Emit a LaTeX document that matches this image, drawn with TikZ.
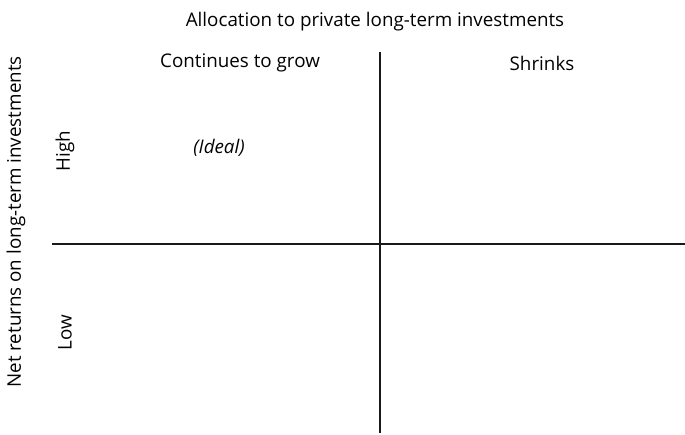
\documentclass[tikz,border=0pt]{standalone}
\usepackage{fontspec}
\setmainfont{Open Sans}
\usetikzlibrary{calc}
\tikzset{
  axis/.style={line width=1.3pt,black!90},
  lbl/.style={font=\fontsize{14.1}{16}\selectfont,inner sep=0pt},
  vlbl/.style={lbl,rotate=90}
}

\begin{document}
\begin{tikzpicture}[x=0.75pt,y=-0.75pt]
%
\useasboundingbox (0,0) rectangle (685,435);
%
\coordinate(T)at(380,52);
\coordinate(B)at(380,433);
\coordinate(L)at(52,244);
\coordinate(R)at(685,244);
%
\draw[axis] (T) -- (B);
\draw[axis] (L) -- (R);
%
\node[lbl] (alloc) at (375,22) {Allocation to private long-term investments};
\node[lbl] (grow) at (240,63) {Continues to grow};
\node[lbl] (shrink) at (542,63) {Shrinks};
\node[lbl,font=\fontsize{14.1}{16}\selectfont\itshape] (ideal) at (219,148) {(Ideal)};
%
\node[vlbl] (net) at (16,222) {Net returns on long-term investments};
\node[vlbl] (high) at (65,151) {High};
\node[vlbl] (low) at (65,333) {Low};
%
\end{tikzpicture}
\end{document}
